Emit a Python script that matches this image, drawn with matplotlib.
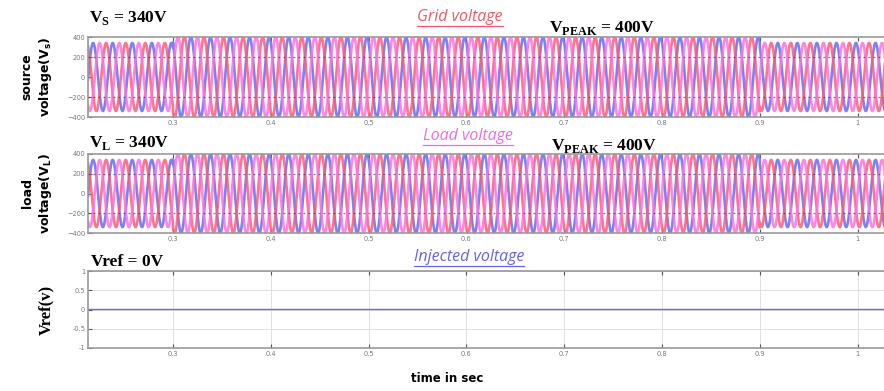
import numpy as np
import matplotlib
matplotlib.use("Agg")
import matplotlib.pyplot as plt

# ---- data ----
seg_edges = [0.20, 0.30, 0.90, 1.05]      # time boundaries of the voltage segments (s)
seg_amplitude = [340, 400, 340]           # phase peak voltage in each segment (V)
grid_freq = 50                            # Hz
phase_shift_deg = [120, -120, 0]          # three phases (drawn in this order)
phase_colors = ["#6a6af2", "#ff5a78", "#ff72dc"]
vref_value = 0.0                          # injected voltage reference
xticks = [0.3, 0.4, 0.5, 0.6, 0.7, 0.8, 0.9, 1.0]
xticklabels = ["0.3", "0.4", "0.5", "0.6", "0.7", "0.8", "0.9", "1"]
v_yticks = [-400, -200, 0, 200, 400]
v_gridlines = [-200, 200]
ref_yticks = [-1, -0.5, 0, 0.5, 1]
ref_yticklabels = ["-1", "-0.5", "0", "0.5", "1"]

t = np.linspace(seg_edges[0], seg_edges[-1], 20000)
amp = np.piecewise(t, [(t >= seg_edges[i]) & (t < seg_edges[i + 1]) for i in range(len(seg_amplitude))],
                   seg_amplitude)

W, H = 884, 391
fig = plt.figure(figsize=(W / 100, H / 100), dpi=100)

def fx(px):
    return px / W

def fy(py):
    return 1 - py / H

left = fx(88)
width = 1.0 - left + 0.01
XL = (0.2131, 1.036)

def style(ax, yt, ytl=None, voltage=True):
    ax.set_xlim(*XL)
    ax.set_xticks(xticks)
    ax.set_xticklabels(xticklabels)
    ax.set_yticks(yt)
    if ytl is not None:
        ax.set_yticklabels(ytl)
    ax.tick_params(labelsize=4.8, labelcolor="#777777", length=3, width=0.8, colors="#555555",
                   pad=2, direction="in", top=True, right=True)
    for s in ax.spines.values():
        s.set_color("#999999")
        s.set_linewidth(1.2)
    if not voltage:
        ax.grid(True, linestyle="-", color="#dadada", linewidth=0.6)

def voltage_axes(top_px, bot_px):
    ax = fig.add_axes([left, fy(bot_px), width, (bot_px - top_px) / H])
    for sh, c in zip(phase_shift_deg, phase_colors):
        ax.plot(t, amp * np.sin(2 * np.pi * grid_freq * t + np.deg2rad(sh)), color=c, lw=1.9, alpha=0.85)
    for g in v_gridlines:
        ax.axhline(g, color="#3a3a70", lw=0.9, ls=(0, (1.5, 2.5)), alpha=0.7, zorder=5)
    ax.set_ylim(-400, 400)
    style(ax, v_yticks)
    return ax

ax1 = voltage_axes(37, 117)
ax2 = voltage_axes(154, 233)

ax3 = fig.add_axes([left, fy(348), width, (348 - 271) / H])
ax3.plot(t, np.full_like(t, vref_value), color="#6a6af0", lw=1.0)
ax3.set_ylim(-1, 1)
style(ax3, ref_yticks, ref_yticklabels, voltage=False)

serif = ["Liberation Serif", "DejaVu Serif"]

# annotations
ann = dict(family=serif, weight="bold", fontsize=12.5, va="center")
fig.text(fx(89), fy(18), r"V$_\mathregular{S}$ = 340V", **ann)
fig.text(fx(89), fy(143), r"V$_\mathregular{L}$ = 340V", **ann)
fig.text(fx(91), fy(262), "Vref = 0V", **ann)
fig.text(fx(549), fy(28), r"V$_\mathregular{PEAK}$ = 400V", **ann)
fig.text(fx(551), fy(146), r"V$_\mathregular{PEAK}$ = 400V", **ann)

def title(txt, xc, yc, color):
    tt = fig.text(fx(xc), fy(yc), txt, color=color, style="italic", fontsize=11.5,
                  ha="center", va="center", family=["Open Sans", "DejaVu Sans"])
    fig.canvas.draw()
    bb = tt.get_window_extent()
    fig.add_artist(plt.Line2D([bb.x0 / W, bb.x1 / W], [fy(yc + 9), fy(yc + 9)], color=color, lw=0.9,
                              transform=fig.transFigure))

title("Grid voltage", 460, 17, "#ec5a6a")
title("Load voltage", 468, 136, "#ea6ee0")
title("Injected voltage", 469, 257, "#6464e6")

# y labels
sans = ["DejaVu Sans"]
yl = dict(rotation=90, weight="bold", fontsize=9, ha="center", va="center", family=sans)
fig.text(fx(27), fy(77), "source", **yl)
fig.text(fx(45), fy(77), r"voltage(V$_\mathregular{s}$)", **yl)
fig.text(fx(27), fy(193), "load", **yl)
fig.text(fx(45), fy(193), r"voltage(V$_\mathregular{L}$)", **yl)
fig.text(fx(46), fy(310), "Vref(v)", rotation=90, weight="bold", fontsize=12, ha="center", va="center",
         family=serif)

fig.text(fx(447), fy(379), "time in sec", weight="bold", fontsize=8.5, ha="center", va="center", family=sans)

fig.savefig("out.png", dpi=100)
